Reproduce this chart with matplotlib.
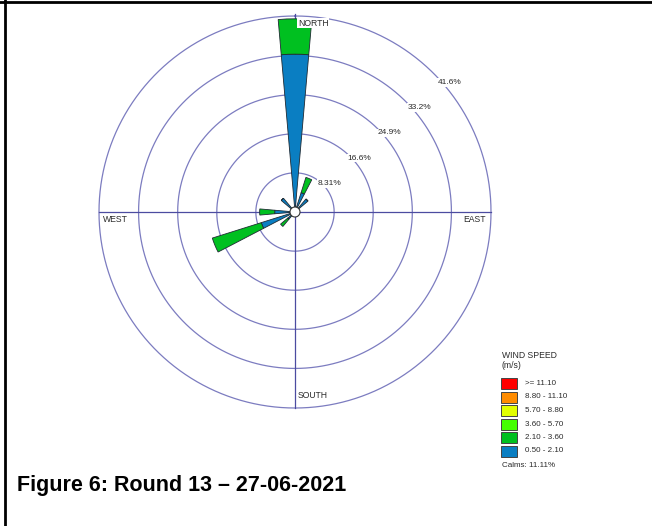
import numpy as np
import matplotlib
matplotlib.use("Agg")
import matplotlib.pyplot as plt
from matplotlib.patches import Rectangle
from matplotlib.lines import Line2D

plt.rcParams["font.family"] = ["Liberation Sans", "DejaVu Sans"]

W, H = 652, 526

# ---- data: frequency (%) per direction and speed class --------------------
directions = ["N", "NNE", "NE", "ENE", "E", "ESE", "SE", "SSE",
              "S", "SSW", "SW", "WSW", "W", "WNW", "NW", "NNW"]
speed_050_210 = [33.5, 4.3, 3.6, 0, 0, 0, 0, 0, 0, 0, 2.0, 7.5, 4.3, 0, 3.8, 0]
speed_210_360 = [7.5, 3.4, 0, 0, 0, 0, 0, 0, 0, 0, 2.0, 10.9, 3.2, 0, 0, 0]

ring_values = [8.31, 16.6, 24.9, 33.2, 41.6]
ring_labels = ["8.31%", "16.6%", "24.9%", "33.2%", "41.6%"]

legend_labels = [">= 11.10", "8.80 - 11.10", "5.70 - 8.80",
                 "3.60 - 5.70", "2.10 - 3.60", "0.50 - 2.10"]
legend_colors = ["#ff0000", "#ff8c00", "#e2ff00", "#44ff00", "#00c020", "#0a7ec2"]
calms = 11.11

BLUE = legend_colors[5]
GREEN = legend_colors[4]
RING = "#7c7cc0"
CROSS = "#4c4ca0"
TXT = "#2a2a2a"


def fx(x):
    return x / W


def fy(y):
    return 1 - y / H


fig = plt.figure(figsize=(W / 100, H / 100), dpi=100)

# polar axes: centre (295, 212) px, outer ring radius 196 px
cx, cy, R = 295, 212, 196
ax = fig.add_axes([fx(cx - R), fy(cy + R), 2 * R / W, 2 * R / H],
                  projection="polar")
ax.set_theta_zero_location("N")
ax.set_theta_direction(-1)
ax.set_axis_off()
rmax = ring_values[-1]

theta_full = np.linspace(0, 2 * np.pi, 721)
for rv in ring_values:
    ax.plot(theta_full, np.full_like(theta_full, rv), color=RING, lw=0.9,
            zorder=1, clip_on=False)
for ang in (0, 90, 180, 270):
    ax.plot([np.radians(ang)] * 2, [0, rmax], color=CROSS, lw=0.9, zorder=1.2,
            clip_on=False)
ax.plot([0, 0], [rmax, rmax + 0.4], color=CROSS, lw=0.9, clip_on=False)

# stacked sectors
theta = np.radians(np.arange(len(directions)) * 22.5)
width = np.radians(10)
blue = np.array(speed_050_210)
green = np.array(speed_210_360)
ax.bar(theta, blue, width=width, bottom=0, color=BLUE, edgecolor="#1f2a33",
       linewidth=0.6, zorder=3)
ax.bar(theta, green, width=width, bottom=blue, color=GREEN,
       edgecolor="#1f2a33", linewidth=0.6, zorder=3)

# calm circle
calm_r = 5 / R * rmax
ax.fill(theta_full, np.full_like(theta_full, calm_r), facecolor="white",
        edgecolor="#333333", linewidth=0.8, zorder=4)
ax.set_ylim(0, rmax)

# ring labels along the NE diagonal
for rv, lab in zip(ring_values, ring_labels):
    ax.text(np.radians(50), rv + 1.2, lab, fontsize=6, color=TXT,
            ha="center", va="center", zorder=2,
            bbox=dict(facecolor="white", edgecolor="none", pad=0.6))

# compass labels
fig.text(fx(298), fy(23), "NORTH", fontsize=6.2, color=TXT, ha="left",
         va="center", zorder=5,
         bbox=dict(facecolor="white", edgecolor="none", pad=0.5))
fig.text(fx(103), fy(219.5), "WEST", fontsize=6.2, color=TXT, ha="left",
         va="center")
fig.text(fx(486), fy(219.5), "EAST", fontsize=6.2, color=TXT, ha="right",
         va="center")
fig.text(fx(298), fy(396), "SOUTH", fontsize=6.2, color=TXT, ha="left",
         va="center")

# legend
fig.text(fx(502), fy(355), "WIND SPEED", fontsize=6.2, color=TXT, ha="left",
         va="center")
fig.text(fx(502), fy(365.5), "(m/s)", fontsize=6.2, color=TXT, ha="left",
         va="center")
for i, (lab, col) in enumerate(zip(legend_labels, legend_colors)):
    yc = 383.5 + i * 13.5
    fig.add_artist(Rectangle((fx(501.5), fy(yc + 5.5)), 16 / W, 11 / H,
                             transform=fig.transFigure, facecolor=col,
                             edgecolor="#444444", linewidth=0.7))
    fig.text(fx(525), fy(yc), lab, fontsize=5.8, color=TXT, ha="left",
             va="center")
fig.text(fx(502), fy(465.5), f"Calms: {calms:.2f}%", fontsize=5.8, color=TXT,
         ha="left", va="center")

# caption
fig.text(fx(17), fy(486), "Figure 6: Round 13 \u2013 27-06-2021",
         fontsize=15.5, fontweight="bold", color="black", ha="left",
         va="center")

# page frame (top and left rules)
fig.add_artist(Line2D([0, 1], [fy(2.2), fy(2.2)], transform=fig.transFigure,
                      color="black", lw=2))
fig.add_artist(Line2D([fx(5.2), fx(5.2)], [0, 1], transform=fig.transFigure,
                      color="black", lw=2))

fig.savefig("out.png", dpi=100, facecolor="white")
